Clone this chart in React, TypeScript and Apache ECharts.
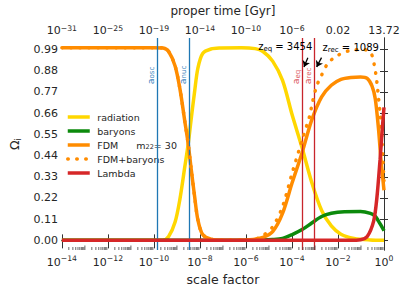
import React, { useEffect, useRef } from 'react';
import * as echarts from 'echarts';

const FONT = 'DejaVu Sans, sans-serif';
const TXT = '#262626';

// x = log10(scale factor), y = Omega_i
const radiation: [number, number][] = [
  [-14, 0], [-9.6, 0.002], [-9.36, 0.02], [-9.08, 0.095], [-8.87, 0.214], [-8.655, 0.384],
  [-8.51, 0.5], [-8.37, 0.64], [-8.23, 0.774], [-8.09, 0.893], [-7.88, 0.97], [-7.52, 0.993],
  [-7.1, 0.998], [-6.2, 1.0], [-5.6, 0.995], [-5.26, 0.98], [-4.84, 0.93], [-4.41, 0.83],
  [-3.99, 0.65], [-3.56, 0.48], [-3.14, 0.3], [-2.71, 0.155], [-2.29, 0.075], [-1.87, 0.032],
  [-1.3, 0.01], [-0.6, 0.002], [0, 0],
];
const baryons: [number, number][] = [
  [-14, 0], [-5.5, 0], [-4.84, 0.004], [-4.41, 0.01], [-3.99, 0.03], [-3.56, 0.056], [-3.14, 0.09],
  [-2.71, 0.124], [-2.29, 0.141], [-1.72, 0.149], [-1.02, 0.15], [-0.59, 0.14], [-0.38, 0.125],
  [-0.24, 0.1], [-0.14, 0.08], [0, 0.05],
];
const fdm: [number, number][] = [
  [-14, 1.0], [-10, 1.0], [-9.6, 0.998], [-9.36, 0.98], [-9.08, 0.905], [-8.87, 0.786],
  [-8.655, 0.616], [-8.51, 0.5], [-8.37, 0.36], [-8.23, 0.226], [-8.09, 0.107], [-7.88, 0.03],
  [-7.52, 0.006], [-7, 0.001], [-6, 0.002], [-5.68, 0.005], [-5.26, 0.015], [-4.84, 0.045],
  [-4.41, 0.14], [-3.99, 0.3], [-3.56, 0.455], [-3.14, 0.625], [-2.71, 0.745], [-2.29, 0.805],
  [-1.87, 0.835], [-1.44, 0.845], [-1.02, 0.847], [-0.73, 0.84], [-0.52, 0.8], [-0.38, 0.735],
  [-0.24, 0.58], [-0.14, 0.43], [-0.06, 0.33], [0, 0.26],
];
const fdmBaryons: [number, number][] = [
  [-14, 1.0], [-10, 1.0], [-9.6, 0.998], [-9.36, 0.98], [-9.08, 0.905], [-8.87, 0.786],
  [-8.655, 0.616], [-8.51, 0.5], [-8.37, 0.36], [-8.23, 0.226], [-8.09, 0.107], [-7.88, 0.03],
  [-7.52, 0.006], [-7, 0.002], [-6, 0.003], [-5.6, 0.006], [-5.26, 0.025], [-4.84, 0.07],
  [-4.41, 0.175], [-3.99, 0.35], [-3.56, 0.52], [-3.21, 0.654], [-3.14, 0.7], [-2.93, 0.8],
  [-2.74, 0.85], [-2.43, 0.92], [-2.0, 0.96], [-1.5, 0.985], [-1.0, 0.99], [-0.7, 0.985],
  [-0.52, 0.96], [-0.42, 0.909], [-0.34, 0.85], [-0.29, 0.8], [-0.23, 0.73], [-0.17, 0.66],
  [-0.1, 0.55], [-0.05, 0.42], [0, 0.31],
];
const lambda: [number, number][] = [
  [-14, 0], [-1.5, 0], [-1.02, 0.003], [-0.73, 0.02], [-0.45, 0.1], [-0.31, 0.22],
  [-0.17, 0.42], [-0.06, 0.6], [0, 0.69],
];

const topTickLabels = ['10^-31', '10^-25', '10^-19', '10^-14', '10^-10', '10^-6', '0.02', '13.72'];
const yTicks = [0, 0.11, 0.22, 0.33, 0.44, 0.55, 0.66, 0.77, 0.88, 0.99];

// log10 of the marked scale factors
const blueLines = [
  { x: -9.855, label: 'osc' },
  { x: -8.47, label: 'nuc' },
];
const redLines = [
  { x: -3.5384, label: 'eq' },
  { x: -3.0374, label: 'rec' },
];

const COLORS = {
  radiation: '#ffd700',
  baryons: '#0c8a0c',
  fdm: '#ff8c00',
  lambda: '#d62728',
  blue: '#1f77b4',
  red: '#c8252c',
};

function supLabel(s: string): string {
  if (s.startsWith('10^')) {
    const e = s.slice(3).replace('-', '\u2212');
    return `{b|10}{sup|${e}}`;
  }
  return `{b|${s}}`;
}

const richBottom = {
  b: { fontSize: 11, lineHeight: 17, fontFamily: FONT, color: TXT, verticalAlign: 'middle' },
  sup: { fontSize: 7.7, lineHeight: 6, fontFamily: FONT, color: TXT, verticalAlign: 'top' },
};
const richTop = {
  b: { fontSize: 11, lineHeight: 13, fontFamily: FONT, color: TXT, verticalAlign: 'middle' },
  sup: { fontSize: 7.7, lineHeight: 5, fontFamily: FONT, color: TXT, verticalAlign: 'top' },
};

export default function App() {
  const ref = useRef<HTMLDivElement>(null);

  useEffect(() => {
    if (!ref.current) return;
    const chart = echarts.init(ref.current, null, { renderer: 'svg' });

    const minorTicks: number[][] = [];
    for (let n = -14; n < 0; n++) {
      if ((n + 14) % 2 === 1) minorTicks.push([n, 1]);
      for (let k = 2; k <= 9; k++) minorTicks.push([n + Math.log10(k), 0]);
    }

    const vLineData: any[] = [
      ...blueLines.map((l) => ({ xAxis: l.x, lineStyle: { color: COLORS.blue } })),
      ...redLines.map((l) => ({ xAxis: l.x, lineStyle: { color: COLORS.red } })),
    ];

    const lineSeries = (name: string, data: [number, number][], color: string, z: number, extra: any = {}) => ({
      name,
      type: 'line',
      data,
      symbol: 'none',
      showSymbol: false,
      smooth: 0.3,
      lineStyle: { color, width: 3.5, ...(extra.lineStyle || {}) },
      itemStyle: { color },
      z,
      ...(extra.rest || {}),
    });

    const option: any = {
      animation: false,
      textStyle: { fontFamily: FONT },
      grid: { left: 54, top: 34, width: 330, height: 216, containLabel: false },
      legend: {
        left: 61,
        top: 107,
        orient: 'vertical',
        itemWidth: 22,
        itemHeight: 10,
        itemGap: 4,
        itemStyle: { opacity: 0 },
        lineStyle: { width: 3.5 },
        textStyle: {
          fontSize: 9.5,
          lineHeight: 10,
          color: TXT,
          fontFamily: FONT,
          padding: [0, 0, 0, 2.5],
          rich: {
            sub: { fontSize: 6.5, lineHeight: 6, verticalAlign: 'bottom', color: TXT, fontFamily: FONT },
          },
        },
        formatter: (name: string) => (name === 'FDM' ? 'FDM      m{sub|22}= 30' : name),
        data: ['radiation', 'baryons', 'FDM', 'FDM+baryons', 'Lambda'],
      },
      xAxis: [
        {
          type: 'value',
          min: -14,
          max: 0,
          interval: 2,
          position: 'bottom',
          name: 'scale factor',
          nameLocation: 'middle',
          nameGap: 23,
          nameTextStyle: { fontSize: 12.5, color: TXT, fontFamily: FONT },
          axisLine: { lineStyle: { color: '#333', width: 1 } },
          axisTick: { inside: true, length: 6, lineStyle: { color: '#333' } },
          axisLabel: {
            margin: 4,
            formatter: (v: number) => supLabel(v === 0 ? '10^0' : `10^${v}`),
            rich: richBottom,
          },
          splitLine: { show: false },
        },
        {
          type: 'value',
          min: -14,
          max: 0,
          interval: 2,
          position: 'top',
          name: 'proper time [Gyr]',
          nameLocation: 'middle',
          nameGap: 21,
          nameTextStyle: { fontSize: 12, color: TXT, fontFamily: FONT },
          axisLine: { lineStyle: { color: '#333', width: 1 } },
          axisTick: { inside: true, length: 8, lineStyle: { color: '#333' } },
          axisLabel: {
            margin: 1,
            formatter: (v: number) => supLabel(topTickLabels[Math.round((v + 14) / 2)] || ''),
            rich: richTop,
          },
          splitLine: { show: false },
        },
      ],
      yAxis: [
        {
          type: 'value',
          min: -0.05,
          max: 1.05,
          position: 'left',
          name: '{o|\u03A9}{sub|i}',
          nameLocation: 'middle',
          nameGap: 31,
          nameRotate: 90,
          nameTextStyle: {
            rich: {
              o: { fontSize: 12.5, lineHeight: 16, fontFamily: FONT, color: TXT },
              sub: { fontSize: 8.5, lineHeight: 8, verticalAlign: 'bottom', fontFamily: FONT, color: TXT },
            },
          },
          axisLine: { show: true, lineStyle: { color: '#333', width: 1 } },
          axisTick: { show: true, inside: true, length: 4, customValues: yTicks, lineStyle: { color: '#333' } },
          axisLabel: {
            customValues: yTicks,
            formatter: (v: number) => v.toFixed(2),
            fontSize: 11,
            color: TXT,
            fontFamily: FONT,
            margin: 4,
          },
          splitLine: { show: false },
        },
        {
          type: 'value',
          min: -0.05,
          max: 1.05,
          position: 'right',
          axisLine: { show: true, lineStyle: { color: '#333', width: 1 } },
          axisTick: { show: true, inside: true, length: 4, customValues: yTicks, lineStyle: { color: '#333' } },
          axisLabel: { show: false },
          splitLine: { show: false },
        },
      ],
      series: [
        lineSeries('radiation', radiation, COLORS.radiation, 2),
        lineSeries('baryons', baryons, COLORS.baryons, 3),
        lineSeries('FDM', fdm, COLORS.fdm, 4),
        lineSeries('FDM+baryons', fdmBaryons, COLORS.fdm, 5, {
          lineStyle: { type: [0.5, 8.5], cap: 'round' },
        }),
        lineSeries('Lambda', lambda, COLORS.lambda, 6, {
          rest: {
            markLine: {
              silent: true,
              symbol: 'none',
              label: { show: false },
              lineStyle: { width: 1.3, type: 'solid' },
              data: vLineData,
            },
          },
        }),
        {
          name: 'arrows',
          type: 'line',
          data: [],
          z: 8,
          markLine: {
            silent: true,
            symbol: ['none', 'arrow'],
            symbolSize: [6, 6],
            label: { show: false },
            lineStyle: { color: '#000', width: 1.3, type: 'solid' },
            data: [
              [{ coord: [-3.31, 0.948] }, { coord: [-3.478, 0.9] }],
              [{ coord: [-2.715, 0.948] }, { coord: [-2.927, 0.9] }],
            ],
          },
        },
        {
          name: 'minorTicks',
          type: 'custom',
          data: minorTicks,
          silent: true,
          z: 9,
          renderItem: (params: any, api: any) => {
            const x = api.value(0);
            const big = api.value(1) === 1;
            const p = api.coord([x, -0.05]);
            return {
              type: 'line',
              shape: { x1: p[0], y1: p[1], x2: p[0], y2: p[1] - (big ? 4.5 : 3) },
              style: { stroke: '#444', lineWidth: 0.8 },
            };
          },
        },
      ],
    };

    chart.setOption(option);

    // annotations placed through the chart's own coordinate conversion
    const px = (x: number, y: number) =>
      chart.convertToPixel({ xAxisIndex: 0, yAxisIndex: 0 }, [x, y]) as number[];
    const graphics: any[] = [];
    const rot = (lx: number, txt: string, color: string) => {
      const p = px(lx, 0.81);
      graphics.push({
        type: 'text',
        x: p[0] - 1.5,
        y: p[1],
        rotation: Math.PI / 2,
        silent: true,
        z: 100,
        style: {
          text: `{a|a}{s|${txt}}`,
          align: 'left',
          verticalAlign: 'bottom',
          fill: color,
          rich: {
            a: { fontSize: 9.5, lineHeight: 11, fontFamily: FONT, fill: color, color },
            s: { fontSize: 7, lineHeight: 6, verticalAlign: 'bottom', fontFamily: FONT, fill: color, color },
          },
        },
      });
    };
    blueLines.forEach((l) => rot(l.x, l.label, '#3b84bd'));
    redLines.forEach((l) => rot(l.x, l.label, '#dc5a63'));

    const zText = (lx: number, ly: number, sub: string, num: string) => {
      const p = px(lx, ly);
      graphics.push({
        type: 'text',
        x: p[0],
        y: p[1],
        silent: true,
        z: 100,
        style: {
          text: `{z|z}{s|${sub}}{z| = ${num}}`,
          align: 'left',
          verticalAlign: 'middle',
          rich: {
            z: { fontSize: 10, lineHeight: 13, fontFamily: FONT, color: TXT },
            s: { fontSize: 7, lineHeight: 7, verticalAlign: 'bottom', fontFamily: FONT, color: TXT },
          },
        },
      });
    };
    zText(-5.47, 1.008, 'eq', '3454');
    zText(-2.67, 1.003, 'rec', '1089');

    chart.setOption({ graphic: graphics });

    return () => chart.dispose();
  }, []);

  return <div ref={ref} style={{ width: 407, height: 291, position: 'absolute', left: 0, top: 0 }} />;
}
